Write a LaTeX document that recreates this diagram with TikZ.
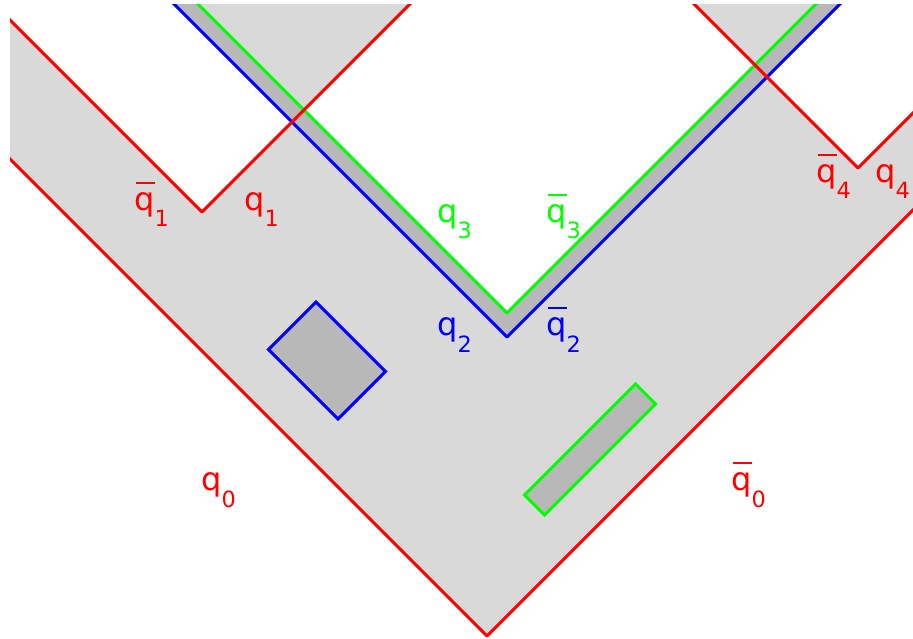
\documentclass[tikz,border=0pt]{standalone}
\usepackage{fontspec}
\setmainfont{DejaVu Sans}
\definecolor{lgray}{HTML}{D9D9D9}
\definecolor{dgray}{HTML}{B8B8B8}
\definecolor{cred}{HTML}{FF0000}
\definecolor{cblue}{HTML}{0000FF}
\definecolor{cgreen}{HTML}{00FF00}
\newcommand\qsub[1]{\raisebox{-16.5pt}{\fontsize{22.4}{22.4}\selectfont #1}}
\newcommand\qplain[1]{q\qsub{#1}}
\newcommand\qbarred[1]{\rlap{\kern1.8pt\rule[26.6pt]{18.5pt}{1.8pt}}q\qsub{#1}}
\tikzset{
  lab/.style={anchor=base west, inner sep=0pt, font=\fontsize{32}{32}\selectfont},
  ln/.style={line width=3pt, line join=round},
  obst/.style={fill=dgray, line width=3pt, line join=miter}
}
\begin{document}
\begin{tikzpicture}[x=1pt,y=-1pt]
\useasboundingbox (0,0) rectangle (913,639);
\begin{scope}
\clip (10,5) rectangle (913,639);
\fill[lgray] (487,636) -- (-100,49) -- (-100,-100) -- (1100,-100) -- (1100,23) -- cycle;
\fill[white,even odd rule]
  (202,212) -- (-100,-90) -- (-100,-100) -- (514,-100) -- cycle
  (858,168) -- (590,-100) -- (1126,-100) -- cycle
  (507,313) -- (94,-100) -- (920,-100) -- cycle;
\fill[dgray] (70,-100) -- (507,337) -- (944,-100) -- (920,-100) -- (507,313) -- (94,-100) -- cycle;
\draw[ln,draw=cgreen] (94,-100) -- (507,313) -- (920,-100);
\draw[ln,draw=cblue] (70,-100) -- (507,337) -- (944,-100);
\draw[ln,draw=cred] (-100,49) -- (487,636) -- (1100,23);
\draw[ln,draw=cred] (-100,-90) -- (202,212) -- (514,-100);
\draw[ln,draw=cred] (590,-100) -- (858,168) -- (1126,-100);
\end{scope}
\draw[obst,draw=cblue] (316,302) -- (385.5,371.5) -- (338,419) -- (268.5,349.5) -- cycle;
\draw[obst,draw=cgreen] (635.5,384) -- (655.5,404) -- (544.5,515) -- (524.5,495) -- cycle;
\node[lab,text=cred] (lq1b) at (134.2,210.5) {\qbarred{1}};
\node[lab,text=cred] (lq1) at (244.2,210.5) {\qplain{1}};
\node[lab,text=cgreen] (lq3) at (437.2,222.5) {\qplain{3}};
\node[lab,text=cgreen] (lq3b) at (546.2,222.5) {\qbarred{3}};
\node[lab,text=cblue] (lq2) at (437.2,335.5) {\qplain{2}};
\node[lab,text=cblue] (lq2b) at (546.2,335.5) {\qbarred{2}};
\node[lab,text=cred] (lq4b) at (816.2,182.5) {\qbarred{4}};
\node[lab,text=cred] (lq4) at (875.2,182.5) {\qplain{4}};
\node[lab,text=cred] (lq0) at (201.2,490.5) {\qplain{0}};
\node[lab,text=cred] (lq0b) at (731.2,490.5) {\qbarred{0}};
\end{tikzpicture}
\end{document}
